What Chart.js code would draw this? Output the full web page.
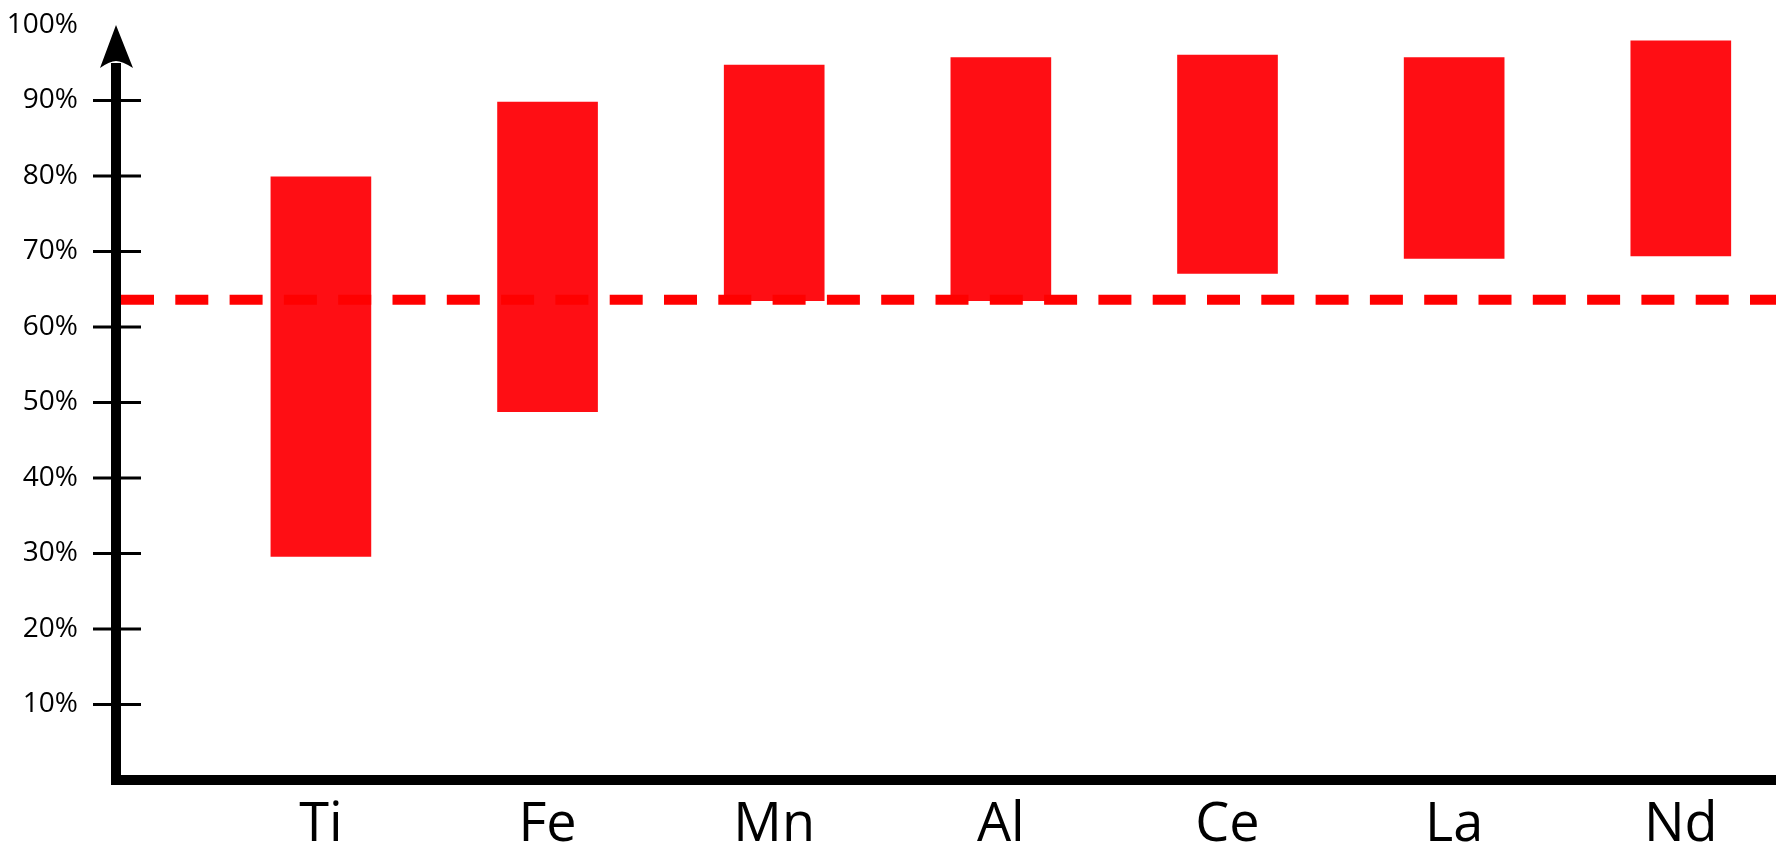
<!DOCTYPE html>
<html>
<head>
<meta charset="utf-8">
<script src="https://cdn.jsdelivr.net/npm/chart.js@4/dist/chart.umd.min.js"></script>
<style>
  html, body { margin: 0; padding: 0; background: #fff; }
  #caixa { width: 1776px; height: 851px; position: relative; }
</style>
</head>
<body>
<div id="caixa"><canvas id="grafico"></canvas></div>
<script>
const elementos = ['Ti', 'Fe', 'Mn', 'Al', 'Ce', 'La', 'Nd'];
const minimos = [29.6, 48.8, 63.5, 63.5, 67.1, 69.1, 69.4];
const maximos = [79.9, 89.8, 94.7, 95.7, 96.0, 95.7, 97.9];
const limiteTracejado = 63.6;
const marcasY = [10, 20, 30, 40, 50, 60, 70, 80, 90, 100];

const xMin = 0.096;
const xMax = 7.42;

const barras = elementos.map((el, i) => ({ x: i + 1, y: [minimos[i], maximos[i]] }));
const tracejado = [{ x: xMin, y: limiteTracejado }, { x: xMax, y: limiteTracejado }];

// eixos pretos com seta, desenhados por cima
const eixosComSeta = {
  id: 'eixosComSeta',
  afterDraw(chart) {
    const ctx = chart.ctx;
    const area = chart.chartArea;
    const escalaY = chart.scales.y;
    const x0 = area.left;
    const y0 = area.bottom;
    const topo = escalaY.getPixelForValue(100);

    ctx.save();
    ctx.fillStyle = '#000';
    ctx.strokeStyle = '#000';

    ctx.lineWidth = 3;
    marcasY.filter(v => v < 100).forEach(v => {
      const y = escalaY.getPixelForValue(v);
      ctx.beginPath();
      ctx.moveTo(x0 - 23, y);
      ctx.lineTo(x0 + 25, y);
      ctx.stroke();
    });

    ctx.fillRect(x0 - 5, topo + 38, 10, y0 + 5 - (topo + 38));
    ctx.fillRect(x0 - 5, y0 - 5, area.right - x0 + 5, 10);

    ctx.beginPath();
    ctx.moveTo(x0, topo);
    ctx.lineTo(x0 + 17, topo + 43);
    ctx.quadraticCurveTo(x0 + 6, topo + 36, x0, topo + 36);
    ctx.quadraticCurveTo(x0 - 6, topo + 36, x0 - 16, topo + 43);
    ctx.closePath();
    ctx.fill();
    ctx.restore();
  }
};

const grafico = new Chart(document.getElementById('grafico').getContext('2d'), {
  type: 'bar',
  data: {
    datasets: [
      {
        type: 'line',
        data: tracejado,
        borderColor: '#ff0000',
        borderWidth: 10,
        borderDash: [33, 21.3],
        borderDashOffset: 49.3,
        borderCapStyle: 'butt',
        pointRadius: 0,
        order: 0
      },
      {
        data: barras,
        backgroundColor: '#ff0e14',
        borderWidth: 0,
        barThickness: 100,
        order: 1
      }
    ]
  },
  options: {
    responsive: true,
    maintainAspectRatio: false,
    animation: false,
    layout: { padding: { top: 25, left: 0, right: 0, bottom: 0 } },
    plugins: {
      legend: { display: false },
      tooltip: { enabled: false }
    },
    scales: {
      x: {
        type: 'linear',
        min: xMin,
        max: xMax,
        offset: false,
        grid: { display: false, drawTicks: false },
        border: { display: false },
        afterBuildTicks: (escala) => {
          escala.ticks = elementos.map((el, i) => ({ value: i + 1 }));
        },
        afterFit: (escala) => {
          escala.height = 71;
          escala.paddingLeft = 0;
          escala.paddingRight = 0;
        },
        ticks: {
          autoSkip: false,
          maxRotation: 0,
          padding: 13,
          color: '#000',
          font: { family: 'Open Sans', size: 54 },
          callback: (v) => elementos[Math.round(v) - 1] || ''
        }
      },
      y: {
        min: 0,
        max: 100,
        grid: { display: false, drawTicks: false },
        border: { display: false },
        afterBuildTicks: (escala) => {
          escala.ticks = marcasY.map(v => ({ value: v }));
        },
        afterFit: (escala) => {
          escala.width = 116;
          escala.paddingTop = 0;
          escala.paddingBottom = 0;
        },
        ticks: {
          padding: 38,
          color: '#000',
          font: { family: 'Open Sans', size: 28 },
          callback: (v) => v + '%'
        }
      }
    }
  },
  plugins: [eixosComSeta]
});
</script>
</body>
</html>
